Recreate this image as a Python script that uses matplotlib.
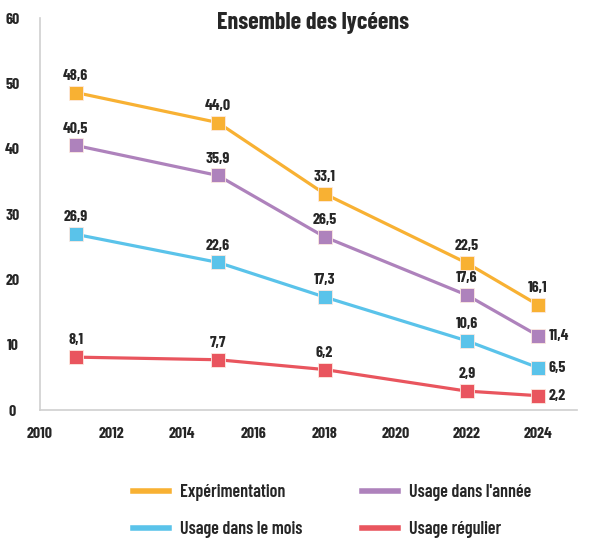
import numpy as np
import matplotlib
matplotlib.use('Agg')
import matplotlib.pyplot as plt
from matplotlib.lines import Line2D

# données (en %)
annees = [2011, 2015, 2018, 2022, 2024]
experimentation = [48.6, 44.0, 33.1, 22.5, 16.1]
usage_annee = [40.5, 35.9, 26.5, 17.6, 11.4]
usage_mois = [26.9, 22.6, 17.3, 10.6, 6.5]
usage_regulier = [8.1, 7.7, 6.2, 2.9, 2.2]

noms = ['Expérimentation', "Usage dans l'année", 'Usage dans le mois', 'Usage régulier']
couleurs = ['#F8B133', '#AE82BC', '#5AC3EA', '#E9555E']

plt.rcParams['font.family'] = ['Barlow Condensed', 'DejaVu Sans']
plt.rcParams['font.weight'] = 'bold'
texte = '#262626'

fig = plt.figure(figsize=(5.9, 5.46), dpi=100)
ax = fig.add_axes([0.068, 0.249, 0.91, 0.718])

series = [experimentation, usage_annee, usage_mois, usage_regulier]
for vals, nom, c in zip(series, noms, couleurs):
    ax.plot(annees, vals, color=c, lw=2.3, marker='s', markersize=10,
            markeredgecolor='#fde9e0', markeredgewidth=0.6, label=nom)
    for x, y in zip(annees, vals):
        lab = ('%.1f' % y).replace('.', ',')
        if x == 2024 and nom != 'Expérimentation':
            ax.text(x + 0.3, y, lab, ha='left', va='center', fontsize=11.5,
                    fontweight='bold', color=texte)
        else:
            ax.text(x, y + 1.5, lab, ha='center', va='bottom', fontsize=11.5,
                    fontweight='bold', color=texte)

ax.set_xlim(2010, 2025.1)
ax.set_ylim(0, 60)
ax.set_xticks(np.arange(2010, 2025, 2))
ax.set_yticks(np.arange(0, 61, 10))
ax.tick_params(length=0, labelsize=11.5, colors=texte, pad=12)
ax.tick_params(axis='y', pad=20)
for t in ax.get_yticklabels():
    t.set_horizontalalignment('center')
ax.spines['top'].set_visible(False)
ax.spines['right'].set_visible(False)
for s in ['left', 'bottom']:
    ax.spines[s].set_color('#cfcfcf')
    ax.spines[s].set_linewidth(1.2)

fig.text(0.53, 0.957, 'Ensemble des lycéens', ha='center', va='center',
         fontsize=17.3, fontweight='bold', color=texte)

# ordre pour avoir les lignes: Expérimentation / Usage dans l'année puis mois / régulier
ordre = [0, 2, 1, 3]
hs = [Line2D([0], [0], color=couleurs[i], lw=4) for i in ordre]
leg = fig.legend(hs, [noms[i] for i in ordre], loc='center', bbox_to_anchor=(0.563, 0.064),
                 ncol=2, frameon=False, fontsize=13, handlelength=2.0, columnspacing=3.3,
                 labelspacing=1.1, handletextpad=0.6)
for t in leg.get_texts():
    t.set_color(texte)
    t.set_fontweight(600)

fig.savefig('out.png', dpi=100)
